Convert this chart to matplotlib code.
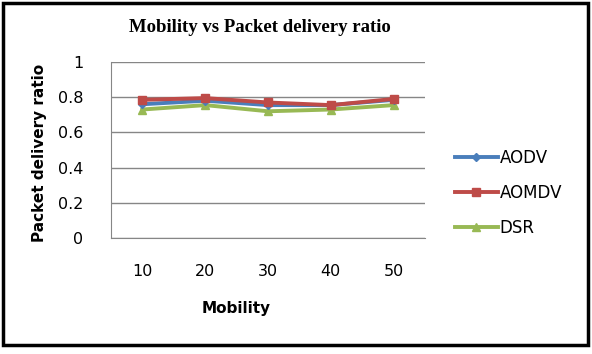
import matplotlib
matplotlib.use("Agg")
import matplotlib.pyplot as plt
from matplotlib.patches import Rectangle

mobility = [10, 20, 30, 40, 50]
aodv = [0.76, 0.78, 0.755, 0.755, 0.785]
aomdv = [0.785, 0.795, 0.77, 0.755, 0.79]
dsr = [0.73, 0.755, 0.72, 0.73, 0.755]
yticks = [0, 0.2, 0.4, 0.6, 0.8, 1]

W, H = 592, 354
fig = plt.figure(figsize=(W / 100, H / 100), dpi=100)
ax = fig.add_axes([111 / W, 1 - 238 / H, (425 - 111) / W, (238 - 62) / H])

x = list(range(len(mobility)))
ax.plot(x, aodv, color="#4A7EBB", lw=2.8, marker="D", ms=4.5, label="AODV", zorder=3)
ax.plot(x, aomdv, color="#BE4B48", lw=2.8, marker="s", ms=5.5, label="AOMDV", zorder=4)
ax.plot(x, dsr, color="#98B954", lw=2.8, marker="^", ms=5.5, label="DSR", zorder=2)

ax.set_xlim(-0.5, len(mobility) - 0.5)
ax.set_ylim(0, 1)
ax.set_yticks(yticks)
ax.set_yticklabels(["0", "0.2", "0.4", "0.6", "0.8", "1"])
ax.set_xticks(x)
ax.set_xticklabels([str(m) for m in mobility])
ax.grid(axis="y", color="#868686", lw=1)
ax.set_axisbelow(True)
for s in ["top", "right"]:
    ax.spines[s].set_visible(False)
for s in ["left", "bottom"]:
    ax.spines[s].set_color("#868686")
ax.tick_params(axis="both", length=0, labelsize=11.5, colors="#000000")
ax.tick_params(axis="y", pad=20)
ax.tick_params(axis="x", pad=19)

fig.text(260 / W, 1 - 28 / H, "Mobility vs Packet delivery ratio", ha="center", va="center",
         fontsize=13.5, fontweight="bold", family="Liberation Serif")
fig.text(236 / W, 1 - 309 / H, "Mobility", ha="center", va="center", fontsize=11, fontweight="bold")
fig.text(40 / W, 1 - 153 / H, "Packet delivery ratio", ha="center", va="center", rotation=90,
         fontsize=11, fontweight="bold")

leg = fig.legend(loc="center left", bbox_to_anchor=(448 / W, 1 - 193 / H), frameon=False,
                 fontsize=12, handlelength=2.6, handletextpad=0.1, labelspacing=1.0,
                 borderaxespad=0)

fig.patches.append(Rectangle((3 / W, 1 - 345 / H), 585 / W, 342 / H, transform=fig.transFigure,
                             fill=False, edgecolor="black", lw=2.5))
fig.savefig("out.png", dpi=100)
